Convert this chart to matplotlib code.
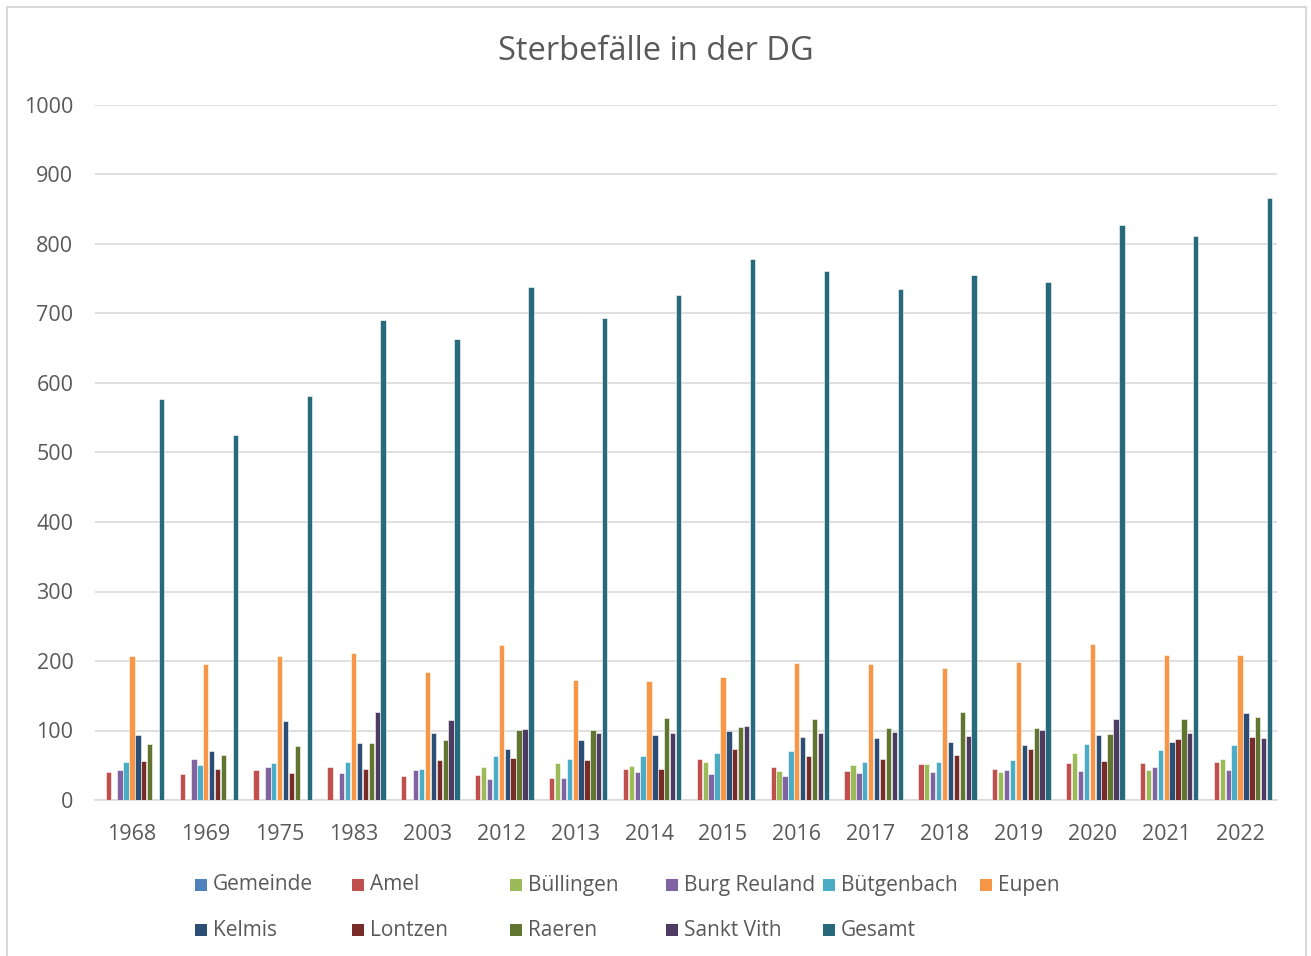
import matplotlib
matplotlib.use("Agg")
import matplotlib.pyplot as plt
import numpy as np
from matplotlib.patches import Rectangle

categories = ["1968", "1969", "1975", "1983", "2003", "2012", "2013", "2014",
              "2015", "2016", "2017", "2018", "2019", "2020", "2021", "2022"]

gemeinde     = [0] * 16
amel         = [40, 38, 43, 48, 34, 36, 32, 45, 59, 48, 42, 52, 45, 53, 53, 54]
buellingen   = [0, 0, 0, 0, 0, 47, 53, 49, 54, 42, 50, 52, 40, 67, 43, 59]
burg_reuland = [43, 59, 47, 39, 43, 30, 32, 40, 37, 34, 39, 41, 43, 42, 48, 43]
buetgenbach  = [55, 51, 53, 54, 45, 64, 59, 63, 67, 71, 54, 54, 57, 80, 72, 79]
eupen        = [207, 195, 207, 212, 184, 223, 173, 171, 177, 197, 196, 190, 199, 225, 208, 208]
kelmis       = [93, 70, 113, 82, 96, 74, 87, 94, 99, 90, 89, 84, 79, 93, 84, 125]
lontzen      = [56, 44, 39, 45, 58, 61, 57, 44, 73, 64, 59, 65, 74, 56, 88, 90]
raeren       = [81, 65, 77, 82, 87, 101, 101, 118, 105, 117, 104, 127, 104, 95, 117, 119]
sankt_vith   = [0, 0, 0, 126, 115, 102, 96, 96, 106, 96, 98, 92, 101, 116, 96, 89]
gesamt       = [577, 525, 581, 690, 664, 738, 693, 726, 779, 761, 735, 756, 745, 827, 811, 866]

series_names = ["Gemeinde", "Amel", "Büllingen", "Burg Reuland", "Bütgenbach", "Eupen",
                "Kelmis", "Lontzen", "Raeren", "Sankt Vith", "Gesamt"]
series_values = [gemeinde, amel, buellingen, burg_reuland, buetgenbach, eupen,
                 kelmis, lontzen, raeren, sankt_vith, gesamt]
colors = ["#4F81BD", "#C0504D", "#9BBB59", "#8064A2", "#4BACC6", "#F79646",
          "#2C4D75", "#772C2A", "#5F7530", "#4D3B62", "#276A7C"]

FONT = "Open Sans"
TXT = "#595959"

W, H = 1311, 956
fig = plt.figure(figsize=(W / 100, H / 100), dpi=100)
ax = fig.add_axes([95 / W, 1 - 800 / H, (1277 - 95) / W, (800 - 105) / H])

n = len(series_names)
x = np.arange(len(categories))
slot = 0.08
bw = 0.072
for i, (name, vals, c) in enumerate(zip(series_names, series_values, colors)):
    offs = (i - (n - 1) / 2) * slot
    ax.bar(x + offs, vals, width=bw, color=c, edgecolor="white", linewidth=0.4,
           zorder=3, label=name)

ax.set_xlim(-0.5, len(categories) - 0.5)
ax.set_ylim(0, 1000)
ax.set_yticks(np.arange(0, 1001, 100))
ax.set_xticks(x)
ax.set_xticklabels(categories)
ax.grid(axis="y", color="#D9D9D9", linewidth=1.2, zorder=0)
ax.set_axisbelow(True)
for s in ["top", "right", "left"]:
    ax.spines[s].set_visible(False)
ax.spines["bottom"].set_color("#D9D9D9")
ax.spines["bottom"].set_linewidth(1.2)
ax.tick_params(axis="both", length=0, labelcolor=TXT, labelsize=15.5)
ax.tick_params(axis="y", pad=15.5)
ax.tick_params(axis="x", pad=17)
for lab in ax.get_xticklabels() + ax.get_yticklabels():
    lab.set_fontfamily(FONT)

fig.text(656 / W, 1 - 51 / H, "Sterbefälle in der DG", ha="center", va="center",
         fontsize=23.5, color=TXT, family=FONT)

# outer chart border
fig.patches.append(Rectangle((7 / W, -0.01), (1306 - 7) / W, 1 - 7 / H + 0.01,
                             transform=fig.transFigure, fill=False,
                             edgecolor="#D9D9D9", linewidth=1.5))

# legend (row-major, fixed column spacing)
col_x = [195, 352, 510, 666, 823, 980]
row_y = [885, 930]
for k, (name, c) in enumerate(zip(series_names, colors)):
    r, cc = divmod(k, 6)
    lx, ly = col_x[cc], row_y[r]
    fig.patches.append(Rectangle((lx / W, 1 - (ly + 6) / H), 12 / W, 12 / H,
                                 transform=fig.transFigure, facecolor=c,
                                 edgecolor="none"))
    fig.text((lx + 18) / W, 1 - ly / H, name, ha="left", va="center",
             fontsize=15, color=TXT, family=FONT)

fig.savefig("out.png", dpi=100, facecolor="white")
